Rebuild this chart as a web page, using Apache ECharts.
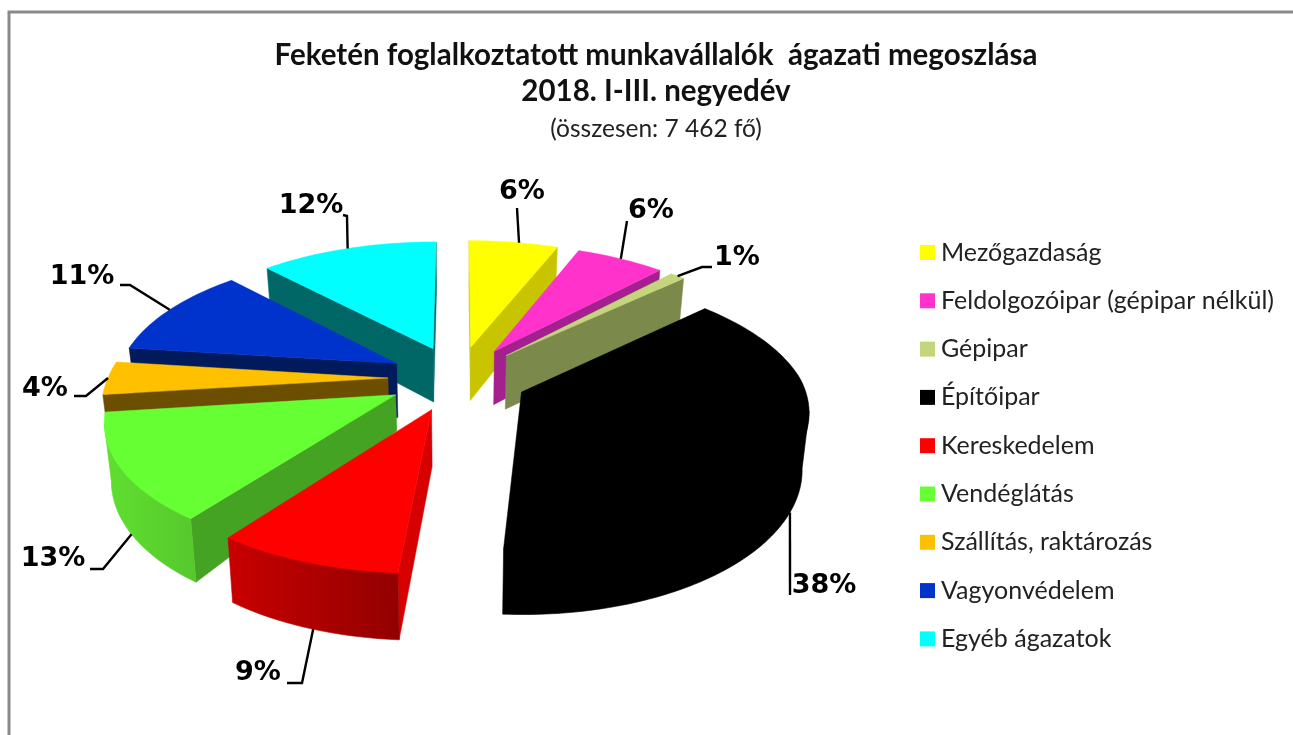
<!DOCTYPE html>
<html>
<head>
<meta charset="utf-8">
<style>html,body{margin:0;padding:0;background:#fff}#c{width:1293px;height:735px}</style>
<script src="https://cdn.jsdelivr.net/npm/echarts@6/dist/echarts.min.js"></script>
</head>
<body>
<div id="c"></div>
<script>
// ---- data ----
const categories = ['Mezőgazdaság','Feldolgozóipar (gépipar nélkül)','Gépipar','Építőipar','Kereskedelem','Vendéglátás','Szállítás, raktározás','Vagyonvédelem','Egyéb ágazatok'];
const shares = [6, 6, 1, 38, 9, 13, 4, 11, 12];
const titleLines = ['Feketén foglalkoztatott munkavállalók  ágazati megoszlása', '2018. I-III. negyedév'];
const subtitle = '(összesen: 7 462 fő)';

// ---- styles ----
const topColors  = ['#ffff00','#ff33cc','#c3d67b','#000000','#ff0000','#66ff33','#ffc000','#0033cc','#00ffff'];
const sideColors = ['#c9c400','#a3218f','#7b8a4a','#000000','#d60000','#44a322','#6b4e00','#001a5c','#006666'];
const arcFrom    = ['#c9c400','#a3218f','#7b8a4a','#000000','#c80000','#60e030','#6b4e00','#001a5c','#006666'];
const arcTo      = ['#c9c400','#a3218f','#7b8a4a','#000000','#930000','#56c82d','#6b4e00','#001a5c','#006666'];
// label centre and the elbow of the leader line, in page pixels
const labelAt = [[522,192],[651,211],[737,258],[824,586],[258,673],[53,559],[45,389],[82,277],[311,206]];
const elbows  = [[[517,208]],[[627,221]],[[702,267],[712,267]],[[790,595]],[[302,683],[287,683]],[[103,569],[90,569]],[[86,396],[74,396]],[[130,285],[120,285]],[[347,216],[343,215]]];
const leaderFraction = [0.56,0.5,0.5,0.5,0.475,0.46,0.5,0.5,0.5];
const apexDepth = [null,null,null,null,null,36,null,null,null];

// ---- projection of the tilted, exploded pie ----
const CX = 458, CY = 378, AX = 280, BY = 130, PERSP = 0.144, EXPLODE = 0.25, HEIGHT = 55, SHEAR = 8, BASE_SHRINK = 0.98;
function project(X, Y) {
  const w = 1 + PERSP * Y;
  return { x: CX + AX * X / w + SHEAR * Math.min(Y, 0), y: CY - BY * Y / w, d: HEIGHT / w };
}
const baseX = x => CX + (x - CX) * BASE_SHRINK;
const total = shares.reduce((a, b) => a + b, 0);
const starts = [];
shares.reduce((acc, v, i) => { starts[i] = acc; return acc + v; }, 0);
const rad = v => v / total * 2 * Math.PI;

function renderSlice(i, value) {
  const a1 = rad(starts[i]), a2 = a1 + rad(value), mid = (a1 + a2) / 2;
  const ox = EXPLODE * Math.sin(mid), oy = EXPLODE * Math.cos(mid);
  const rim = a => project(ox + Math.sin(a), oy + Math.cos(a));
  const apex = project(ox, oy);
  const n = Math.max(4, Math.ceil((a2 - a1) / 0.03));
  const children = [];
  const apexD = apexDepth[i] == null ? apex.d : apexDepth[i];
  const radial = p => ({ type: 'polygon', silent: true,
    shape: { points: [[apex.x, apex.y], [p.x, p.y], [baseX(p.x), p.y + p.d], [baseX(apex.x), apex.y + apexD]] },
    style: { fill: sideColors[i], stroke: sideColors[i], lineWidth: 0.5 } });
  const p1 = rim(a1), p2 = rim(a2);
  if (p1.x < apex.x) children.push(radial(p1));
  if (p2.x > apex.x) children.push(radial(p2));
  // outer wall: runs between the slice's rightmost and leftmost rim points, so only the viewer-facing part shows
  let lo = a1, hi = a1, maxX = -Infinity, minX = Infinity;
  for (let k = 0; k <= 80; k++) {
    const a = a1 + (a2 - a1) * k / 80, x = rim(a).x;
    if (x > maxX) { maxX = x; lo = a; }
    if (x < minX) { minX = x; hi = a; }
  }
  if (hi > lo) {
    const upper = [], lower = [];
    for (let k = 0; k <= n; k++) {
      const p = rim(lo + (hi - lo) * k / n);
      const tuck = (k === 0 || k === n) ? 1 : 0.98;   // upper edge slips under the top face
      upper.push([apex.x + (p.x - apex.x) * tuck, apex.y + (p.y - apex.y) * tuck]);
      lower.unshift([baseX(p.x), p.y + p.d]);
    }
    const fill = new echarts.graphic.LinearGradient(0, 0, 1, 0, [
      { offset: 0, color: arcFrom[i] },
      { offset: 1, color: arcTo[i] }
    ]);
    children.push({ type: 'polygon', silent: true, shape: { points: upper.concat(lower) },
      style: { fill, stroke: fill, lineWidth: 0.6 } });
  }
  // top face
  const face = [[apex.x, apex.y]];
  for (let k = 0; k <= n; k++) {
    const p = rim(a1 + (a2 - a1) * k / n);
    face.push([p.x, p.y]);
  }
  children.push({ type: 'polygon', silent: true, shape: { points: face },
    style: { fill: topColors[i], stroke: topColors[i], lineWidth: 0.5 } });
  // leader and percentage label
  const m = rim(a1 + (a2 - a1) * leaderFraction[i]);
  const front = Math.cos(mid) < -0.1;
  const line = [front ? [baseX(m.x), m.y + m.d] : [m.x, m.y]].concat(elbows[i]);
  children.push({ type: 'polyline', silent: true, shape: { points: line },
    style: { stroke: '#000', lineWidth: 2.4, fill: 'none' } });
  children.push({ type: 'text', silent: true, style: {
    text: value + '%', x: labelAt[i][0], y: labelAt[i][1], fill: '#000',
    font: 'bold 27px "DejaVu Sans"', align: 'center', verticalAlign: 'middle' } });
  return { type: 'group', children };
}

// painter's order: far slices first
const paintOrder = categories.map((_, i) => i).sort((p, q) => {
  const c = i => Math.cos(rad(starts[i]) + rad(shares[i]) / 2);
  return c(q) - c(p);
});

const chart = echarts.init(document.getElementById('c'), null, { renderer: 'canvas' });
chart.setOption({
  animation: false,
  backgroundColor: '#fff',
  title: {
    text: titleLines.join('\n'),
    subtext: subtitle,
    left: 656, top: 37, padding: 0, textAlign: 'center', itemGap: 7,
    textStyle: { fontFamily: 'Lato', fontWeight: 'bold', fontSize: 29.5, lineHeight: 36, color: '#111' },
    subtextStyle: { fontFamily: 'Lato', fontSize: 24.5, color: '#222', lineHeight: 26 }
  },
  legend: {
    orient: 'vertical', left: 920, top: 237.5, padding: 0, itemWidth: 15, itemHeight: 15, itemGap: 18.3,
    selectedMode: false, icon: 'rect',
    data: categories,
    textStyle: { fontFamily: 'Lato', fontSize: 25, color: '#222', lineHeight: 30, height: 30, padding: [0, 0, 0, 1] }
  },
  graphic: [{ type: 'polyline', silent: true, shape: { points: [[9, 735], [9, 12], [1293, 12]] },
    style: { stroke: '#8a8a8a', fill: 'none', lineWidth: 3 } }],
  series: paintOrder.map((i, order) => ({
    type: 'custom', name: categories[i], coordinateSystem: 'none', z: 2 + order,
    silent: true, itemStyle: { color: topColors[i] },
    data: [[shares[i]]],
    renderItem: (params, api) => renderSlice(i, api.value(0))
  }))
});
</script>
</body>
</html>
